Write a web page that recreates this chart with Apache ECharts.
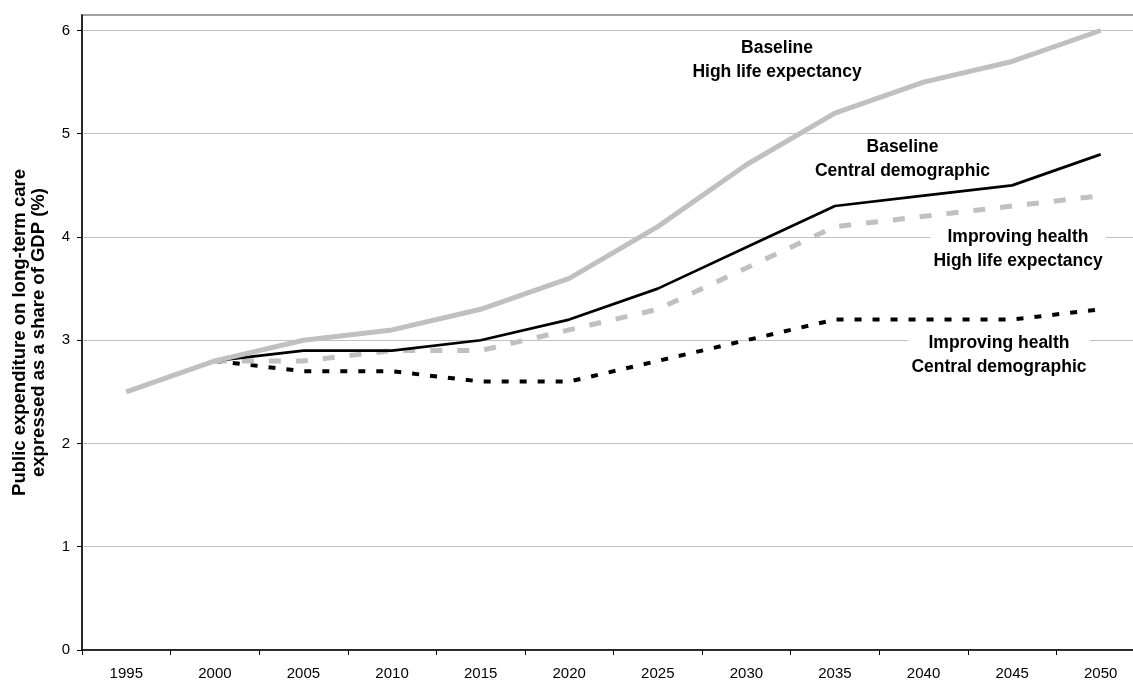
<!DOCTYPE html>
<html>
<head>
<meta charset="utf-8">
<script src="https://cdn.jsdelivr.net/npm/echarts@6/dist/echarts.min.js"></script>
<style>
html,body{margin:0;padding:0;background:#fff;overflow:hidden;width:1133px;height:682px;}
#chart{width:1145px;height:682px;}
</style>
</head>
<body>
<div id="chart"></div>
<script>
var years = ['1995','2000','2005','2010','2015','2020','2025','2030','2035','2040','2045','2050'];
var baselineHigh = [2.5, 2.8, 3.0, 3.1, 3.3, 3.6, 4.1, 4.7, 5.2, 5.5, 5.7, 6.0];
var baselineCentral = [null, 2.8, 2.9, 2.9, 3.0, 3.2, 3.5, 3.9, 4.3, 4.4, 4.5, 4.8];
var improvingHigh = [null, 2.8, 2.8, 2.9, 2.9, 3.1, 3.3, 3.7, 4.1, 4.2, 4.3, 4.4];
var improvingCentral = [null, 2.8, 2.7, 2.7, 2.6, 2.6, 2.8, 3.0, 3.2, 3.2, 3.2, 3.3];
var yTicks = [0, 1, 2, 3, 4, 5, 6];
var yAxisTitle = 'Public expenditure on long-term care\nexpressed as a share of GDP (%)';

var FONT = '"Liberation Sans", Arial, sans-serif';
var chart = echarts.init(document.getElementById('chart'), null, {renderer: 'canvas'});

function note(text, x, y, bg) {
  return {
    type: 'text', x: x, y: y, z: 100,
    style: {
      text: text, x: 0, y: 0, align: 'center', verticalAlign: 'middle',
      font: 'bold 17.5px ' + FONT, fill: '#000', lineHeight: 24,
      backgroundColor: bg ? '#fff' : null, padding: bg ? [0, 3] : 0
    }
  };
}

var option = {
  backgroundColor: '#fff',
  animation: false,
  grid: {left: 82, right: 0, top: 15, bottom: 32, show: true, borderColor: '#808080', borderWidth: 1.5, backgroundColor: 'transparent'},
  xAxis: {
    type: 'category', data: years, boundaryGap: true,
    axisLine: {lineStyle: {color: '#000', width: 1.5}},
    axisTick: {show: true, length: 5, lineStyle: {color: '#000', width: 1}},
    axisLabel: {color: '#000', fontSize: 15, fontFamily: FONT, margin: 16},
    splitLine: {show: false}
  },
  yAxis: {
    type: 'value', min: 0, max: 6.15, interval: 1,
    name: yAxisTitle, nameLocation: 'middle', nameGap: 34, nameRotate: 90,
    nameTextStyle: {color: '#000', fontSize: 18.5, fontWeight: 'bold', fontFamily: FONT, lineHeight: 19},
    axisLine: {show: true, lineStyle: {color: '#000', width: 1.5}},
    axisTick: {show: true, length: 5, lineStyle: {color: '#000'}, customValues: yTicks},
    axisLabel: {color: '#000', fontSize: 15, fontFamily: FONT, margin: 12, customValues: yTicks,
      formatter: function (v) { return yTicks.indexOf(v) >= 0 ? String(v) : ''; }},
    splitLine: {show: true, lineStyle: {color: '#c0c0c0', width: 1}}
  },
  series: [
    {name: 'Improving health Central demographic', type: 'line', data: improvingCentral, symbol: 'none', z: 2,
      lineStyle: {color: '#000', width: 4, type: [7, 11], cap: 'butt'}},
    {name: 'Improving health High life expectancy', type: 'line', data: improvingHigh, symbol: 'none', z: 3,
      lineStyle: {color: '#c0c0c0', width: 5, type: [12, 15], cap: 'butt'}},
    {name: 'Baseline Central demographic', type: 'line', data: baselineCentral, symbol: 'none', z: 4,
      lineStyle: {color: '#000', width: 2.7}},
    {name: 'Baseline High life expectancy', type: 'line', data: baselineHigh, symbol: 'none', z: 5,
      lineStyle: {color: '#c0c0c0', width: 5}}
  ],
  graphic: [
    note('Baseline\nHigh life expectancy', 777, 60.5, false),
    note('Baseline\nCentral demographic', 902.5, 159.6, false),
    note('Improving health\nHigh life expectancy', 1018, 248.8, true),
    note('Improving health\nCentral demographic', 999, 355.3, true)
  ]
};
chart.setOption(option);
</script>
</body>
</html>
